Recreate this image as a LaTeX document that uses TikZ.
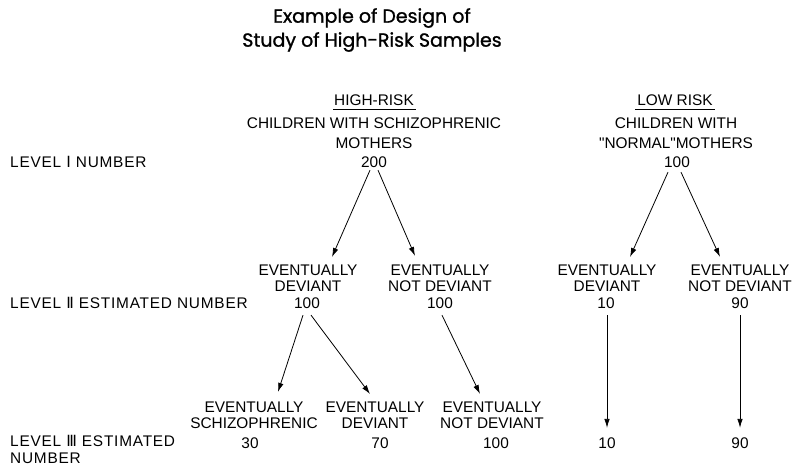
\documentclass[tikz,border=0pt]{standalone}
\usepackage{fontspec}
\setmainfont{Liberation Sans}[Ligatures=TeXOff]
\newfontfamily\titlefont{Poppins}[FakeBold=1.2]
\newfontfamily\levelfont{Liberation Sans}[LetterSpace=5]
\newfontfamily\numfont{DejaVu Sans}
\usetikzlibrary{calc, positioning, arrows.meta}

\begin{document}
\begin{tikzpicture}[x=1pt, y=-1pt,
    every node/.style={inner sep=0pt, align=center},
    lbl/.style={font=\fontsize{15.4}{16}\selectfont},
    grp/.style={font=\fontsize{15.4}{20}\selectfont},
    lvl/.style={anchor=west, align=left, font=\levelfont\fontsize{15.4}{17}\selectfont},
    arr/.style={-{Latex[length=9pt,width=5.5pt]}, line width=0.8pt}]
    \useasboundingbox (0,0) rectangle (797,466);
    % title
    \node[font=\titlefont\fontsize{19}{24}\selectfont] (title) at (372,30) {Example of Design of\\Study of High-Risk Samples};
    % level I
    \node[lvl] (lev1) at (10,162) {LEVEL {\numfont Ⅰ} NUMBER};
    \node[lbl] (hr) at (374,100) {HIGH-RISK};
    \node[grp] (hrmoth) at (374,133) {CHILDREN WITH SCHIZOPHRENIC\\MOTHERS};
    \node[lbl] (n200) at (374,162) {200};
    \node[lbl] (lr) at (675,100) {LOW RISK};
    \node[grp] (lrmoth) at (676,133) {CHILDREN WITH\\"NORMAL"MOTHERS};
    \node[lbl] (n100) at (677,162) {100};
    \draw[line width=1.6pt] ([xshift=-1pt,yshift=-4pt]hr.south west) -- ([xshift=2pt,yshift=-4pt]hr.south east);
    \draw[line width=1.6pt] ([xshift=-2pt,yshift=-4pt]lr.south west) -- ([xshift=2pt,yshift=-4pt]lr.south east);
    % level II
    \node[lvl] (lev2) at (10,303) {LEVEL {\numfont Ⅱ} ESTIMATED NUMBER};
    \node[lbl] (hdev) at (308,278) {EVENTUALLY\\DEVIANT};
    \node[lbl] (hdevn) at (307,303) {100};
    \node[lbl] (hnot) at (440,278) {EVENTUALLY\\NOT DEVIANT};
    \node[lbl] (hnotn) at (440,303) {100};
    \node[lbl] (ldev) at (607,278) {EVENTUALLY\\DEVIANT};
    \node[lbl] (ldevn) at (606,303) {10};
    \node[lbl] (lnot) at (740,278) {EVENTUALLY\\NOT DEVIANT};
    \node[lbl] (lnotn) at (740,303) {90};
    % level III
    \node[lvl] (lev3) at (10,449.5) {LEVEL {\numfont Ⅲ} ESTIMATED\\NUMBER};
    \node[lbl] (sch) at (254,415) {EVENTUALLY\\SCHIZOPHRENIC};
    \node[lbl] (schn) at (250,443) {30};
    \node[lbl] (dev3) at (375,415) {EVENTUALLY\\DEVIANT};
    \node[lbl] (dev3n) at (380,443) {70};
    \node[lbl] (not3) at (492,415) {EVENTUALLY\\NOT DEVIANT};
    \node[lbl] (not3n) at (496,443) {100};
    \node[lbl] (l10) at (607,443) {10};
    \node[lbl] (l90) at (740,443) {90};
    % arrows
    \draw[arr] ($(n200.south)+(-4,2.5)$) -- ($(hdev.north)+(24,-7.5)$);
    \draw[arr] ($(n200.south)+(4,2.5)$) -- ($(hnot.north)+(-25,-8.5)$);
    \draw[arr] ($(n100.south)+(-9,4.5)$) -- ($(ldev.north)+(23,-7.5)$);
    \draw[arr] ($(n100.south)+(4,4.5)$) -- ($(lnot.north)+(-20,-7.5)$);
    \draw[arr] ($(hdevn.south)+(-4,6.5)$) -- ($(sch.north)+(24,-9.5)$);
    \draw[arr] ($(hdevn.south)+(4,6.5)$) -- ($(dev3.north)+(-5,-7.5)$);
    \draw[arr] ($(hnotn.south)+(2,6.5)$) -- ($(not3.north)+(-12,-7.5)$);
    \draw[arr] ($(ldevn.south)+(1,6.5)$) -- ($(l10.north)+(0,-9.5)$);
    \draw[arr] ($(lnotn.south)+(0,6.5)$) -- ($(l90.north)+(0,-9.5)$);
\end{tikzpicture}
\end{document}
